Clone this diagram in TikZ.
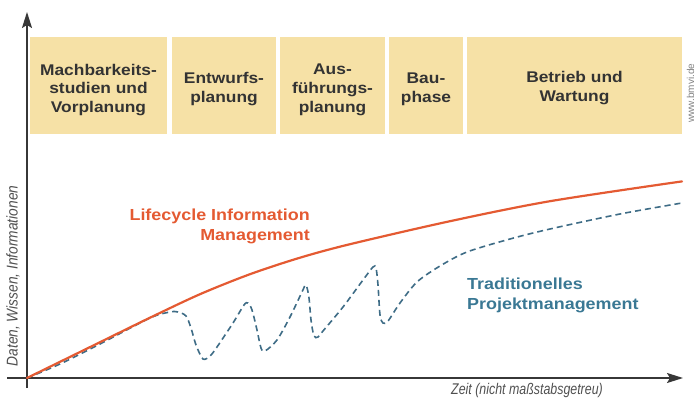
\documentclass[tikz,border=0pt]{standalone}
\usepackage{fontspec}
\setmainfont{Liberation Sans}
\newfontfamily\boxfont{Liberation Sans}[FakeStretch=1.12]
\newfontfamily\axisfont{Liberation Sans}[FakeStretch=0.88]
\newfontfamily\xaxisfont{Liberation Sans}[FakeStretch=0.8]
\usetikzlibrary{arrows.meta}
\definecolor{boxfill}{RGB}{246,225,166}
\definecolor{boxtext}{RGB}{51,51,51}
\definecolor{lifered}{RGB}{228,90,50}
\definecolor{tradblue}{RGB}{62,108,134}
\definecolor{tradtext}{RGB}{58,120,148}
\definecolor{axisgray}{RGB}{55,55,55}
\definecolor{labelgray}{RGB}{80,80,80}
\definecolor{webgray}{RGB}{130,130,130}
\begin{document}
\begin{tikzpicture}[x=1pt,y=-1pt,
  phasebox/.style={fill=boxfill, draw=none, minimum height=97pt, inner sep=0pt},
  phasetext/.style={font=\boxfont\bfseries\fontsize{15.5pt}{18.8pt}\selectfont, text=boxtext, align=center, inner sep=0pt},
  curvelabel/.style={font=\boxfont\bfseries\fontsize{16pt}{20pt}\selectfont, inner sep=0pt},
  axisline/.style={draw=axisgray, line width=1.6pt, -{Stealth[length=16pt,width=10pt,inset=3pt]}},
  axislabel/.style={text=labelgray, inner sep=0pt},
  lifecurve/.style={draw=lifered, line width=2.2pt, line cap=round},
  tradcurve/.style={draw=tradblue, line width=1.6pt, dash pattern=on 6pt off 4pt}
]
\useasboundingbox (0,0) rectangle (697,401);

% phase boxes
\node[phasebox, minimum width=137pt] (b1) at (98.5,85.5) {};
\node[phasebox, minimum width=104pt] (b2) at (224,85.5) {};
\node[phasebox, minimum width=105pt] (b3) at (332.5,85.5) {};
\node[phasebox, minimum width=74pt]  (b4) at (426,85.5) {};
\node[phasebox, minimum width=215pt] (b5) at (574.5,85.5) {};

\node[phasetext] (t1) at (98.5,90) {Machbarkeits-\\studien und\\Vorplanung};
\node[phasetext] (t2) at (224,89) {Entwurfs-\\planung};
\node[phasetext] (t3) at (332.5,90) {Aus-\\führungs-\\planung};
\node[phasetext] (t4) at (426,89) {Bau-\\phase};
\node[phasetext] (t5) at (574.5,88) {Betrieb und\\Wartung};

% website
\node[rotate=90, font=\fontsize{10pt}{12pt}\selectfont, text=webgray, inner sep=0pt] (web) at (690.5,93) {www.bmvi.de};

% axes
\coordinate (ybot) at (27,388);
\coordinate (ytop) at (27,12);
\coordinate (xleft) at (7,378);
\coordinate (xright) at (683,378);
\draw[axisline] (ybot) -- (ytop);
\draw[axisline] (xleft) -- (xright);

\node[axislabel, rotate=90, font=\axisfont\itshape\fontsize{15.6pt}{17pt}\selectfont] (ylab) at (13,276) {Daten, Wissen, Informationen};
\node[axislabel, font=\xaxisfont\itshape\fontsize{15.5pt}{17pt}\selectfont] (xlab) at (527,390) {Zeit (nicht maßstabsgetreu)};

% traditional curve
\draw[tradcurve] plot[smooth, tension=0.5] coordinates {
(27,378) (60,364) (100,344) (150,318) (170,312) (178,312) (186,316) (191,328) (196,345) (203,359)
(210,356) (217,347) (233,323) (244,305) (248,303) (252,310) (257,330) (261,348) (265,351)
(277,340) (290,317) (302,292) (306,285) (309,298) (311,320) (314,336) (318,337)
(323,331) (343,307) (363,280) (373,267) (376,268) (378,285) (380,315) (383,323) (388,321)
(400,303) (417,282) (440,266) (467,252) (510,239) (550,229) (620,214) (682,203)};

% lifecycle curve
\draw[lifecurve] plot[smooth] coordinates {
(27,378) (100,342.2) (150,317.7) (200,294.2) (250,274.2) (300,257.7) (350,244.2) (450,221.2) (550,201.2) (682,181.4)};

% curve labels
\node[curvelabel, text=lifered, align=right, anchor=east] (lifelab) at (310,226) {Lifecycle Information\\Management};
\node[curvelabel, text=tradtext, align=left, anchor=west] (tradlab) at (467,295) {Traditionelles\\Projektmanagement};

\end{tikzpicture}
\end{document}
